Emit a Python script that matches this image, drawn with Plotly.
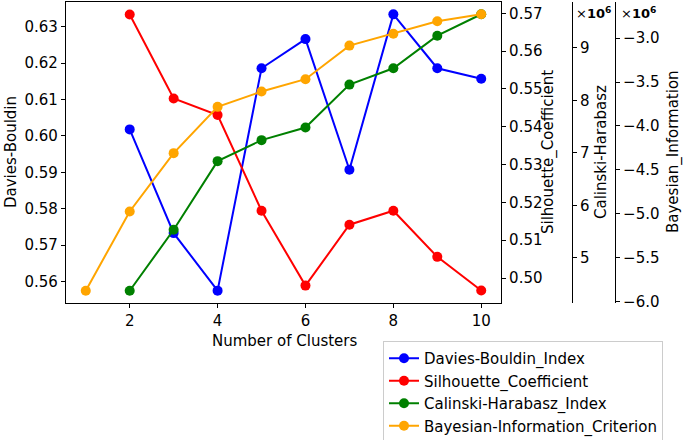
import plotly.graph_objects as go

clusters = [1, 2, 3, 4, 5, 6, 7, 8, 9, 10]
db_x = [2, 3, 4, 5, 6, 7, 8, 9, 10]
davies_bouldin = [0.6018, 0.5733, 0.5575, 0.6186, 0.6266, 0.5907, 0.6334, 0.6186, 0.6157]
silhouette = [0.5697, 0.5475, 0.5431, 0.5178, 0.4980, 0.5141, 0.5178, 0.5056, 0.4967]
calinski = [4.371e6, 5.533e6, 6.842e6, 7.242e6, 7.482e6, 8.301e6, 8.613e6, 9.234e6, 9.642e6]
bic = [-5.878e6, -4.975e6, -4.310e6, -3.782e6, -3.608e6, -3.467e6, -3.084e6, -2.948e6, -2.807e6, -2.727e6]

x_ticks = [2, 4, 6, 8, 10]
db_ticks = [0.56, 0.57, 0.58, 0.59, 0.60, 0.61, 0.62, 0.63]
sil_ticks = [0.50, 0.51, 0.52, 0.53, 0.54, 0.55, 0.56, 0.57]
ch_ticks = [5e6, 6e6, 7e6, 8e6, 9e6]
ch_labels = ["5", "6", "7", "8", "9"]
bic_ticks = [-6.0e6, -5.5e6, -5.0e6, -4.5e6, -4.0e6, -3.5e6, -3.0e6]
bic_labels = ["\u22126.0", "\u22125.5", "\u22125.0", "\u22124.5", "\u22124.0", "\u22123.5", "\u22123.0"]

FONT = "DejaVu Sans"
FS = 15
W, H = 685, 440
L, R, T, B = 66, 40, 2, 137
pw = W - L - R
ph = H - T - B

def px(xpix):
    return (xpix - L) / pw

def py(ypix):
    return 1 - (ypix - T) / ph

fig = go.Figure()
fig.add_trace(go.Scatter(x=db_x, y=davies_bouldin, name="Davies-Bouldin_Index",
                         line=dict(color="blue", width=2), marker=dict(size=10, color="blue"),
                         mode="lines+markers", yaxis="y"))
fig.add_trace(go.Scatter(x=db_x, y=silhouette, name="Silhouette_Coefficient",
                         line=dict(color="red", width=2), marker=dict(size=10, color="red"),
                         mode="lines+markers", yaxis="y2"))
fig.add_trace(go.Scatter(x=db_x, y=calinski, name="Calinski-Harabasz_Index",
                         line=dict(color="green", width=2), marker=dict(size=10, color="green"),
                         mode="lines+markers", yaxis="y3"))
fig.add_trace(go.Scatter(x=clusters, y=bic, name="Bayesian-Information_Criterion",
                         line=dict(color="orange", width=2), marker=dict(size=10, color="orange"),
                         mode="lines+markers", yaxis="y4"))

ax_common = dict(showline=True, linecolor="black", linewidth=1.2, ticks="outside",
                 ticklen=4, tickcolor="black", tickwidth=1, showgrid=False, zeroline=False,
                 automargin=False,
                 tickfont=dict(family=FONT, size=FS, color="black"))

fig.update_layout(
    template="none",
    width=W, height=H,
    margin=dict(l=L, r=R, t=T, b=B, autoexpand=False),
    paper_bgcolor="white", plot_bgcolor="white",
    font=dict(family=FONT, size=FS, color="black"),
    xaxis=dict(domain=[0, px(501)], range=[0.55, 10.45], tickvals=x_ticks, mirror=True,
               **ax_common),
    yaxis=dict(range=[0.5541, 0.6368], tickvals=db_ticks, tickformat=".2f",
               **ax_common),
    yaxis2=dict(range=[0.4934, 0.5730], tickvals=sil_ticks, tickformat=".2f",
                overlaying="y", side="right", anchor="x",
                **ax_common),
    yaxis3=dict(range=[4.137e6, 9.876e6], tickvals=ch_ticks, ticktext=ch_labels,
                overlaying="y", side="right", anchor="free", position=px(572),
                **ax_common),
    yaxis4=dict(range=[-6.018e6, -2.587e6], tickvals=bic_ticks, ticktext=bic_labels,
                overlaying="y", side="right", anchor="free", position=px(615),
                **ax_common),
    legend=dict(xref="container", yref="container", x=383 / W, y=1 - 341 / H,
                xanchor="left", yanchor="top", bgcolor="white", bordercolor="#cccccc",
                borderwidth=1, font=dict(family=FONT, size=FS), tracegroupgap=0,
                itemwidth=30),
    showlegend=True,
)

# axis titles
titles = [
    ("Number of Clusters", 284, 341, 0),
    ("Davies-Bouldin", 11, 152, -90),
    ("Silhouette_Coefficient", 549, 152, -90),
    ("Calinski-Harabasz", 601, 152, -90),
    ("Bayesian_Information", 674, 152, -90),
]
for text, xpix, ypix, ang in titles:
    fig.add_annotation(xref="paper", yref="paper", x=px(xpix), y=py(ypix),
                       xanchor="center", yanchor="middle", text=text, textangle=ang,
                       showarrow=False, font=dict(family=FONT, size=FS, color="black"))

for xp in (575, 620):
    fig.add_annotation(xref="paper", yref="paper", x=px(xp), y=py(4), xanchor="left", yanchor="top",
                       text="\u00d7<b>10<sup>6</sup></b>", showarrow=False, borderpad=0,
                       font=dict(family=FONT, size=13, color="black"))

fig.write_html("out.html", config={"displayModeBar": False},
               post_script="document.body.style.margin='0';")
